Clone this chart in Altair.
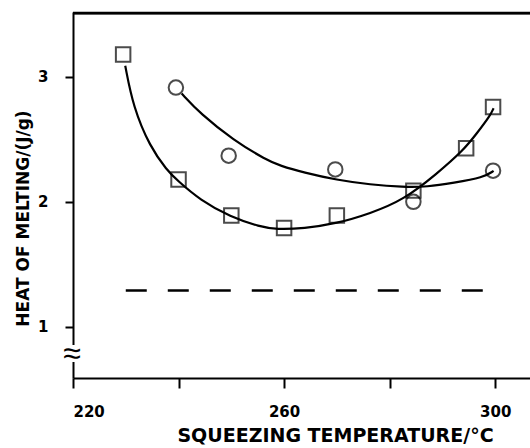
import altair as alt
import pandas as pd

# measured points (squares and circles)
sq_t = [229.5, 240, 250, 260, 270, 284.5, 294.5, 299.6]
sq_h = [3.18, 2.18, 1.89, 1.79, 1.89, 2.09, 2.43, 2.76]
ci_t = [239.5, 249.5, 269.7, 284.5, 299.6]
ci_h = [2.915, 2.37, 2.26, 2.00, 2.25]

# fitted curves
sqc_t = [229.9, 231.4, 234.6, 237.8, 239.7, 244.1, 249.8, 255.5, 258.6, 263.7, 270.0, 276.3, 282.6, 289.0, 294.0, 296.5, 299.1, 299.7]
sqc_h = [3.09, 2.76, 2.44, 2.254, 2.174, 2.014, 1.88, 1.80, 1.779, 1.787, 1.827, 1.907, 2.014, 2.227, 2.414, 2.547, 2.694, 2.75]
cic_t = [240.6, 244.1, 250.4, 256.7, 259.2, 263.7, 270.0, 276.3, 282.6, 287.1, 292.1, 297.8, 299.7]
cic_h = [2.867, 2.707, 2.494, 2.334, 2.29, 2.235, 2.175, 2.138, 2.118, 2.12, 2.152, 2.195, 2.248]

# dashed reference level
base_t = [230, 298]
base_h = [1.29, 1.29]

x_ticks = [220, 240, 260, 280, 300]
y_ticks = [1, 2, 3]
x_domain = [220, 306.6]
y_domain = [0.59, 3.52]
frame_top = [3.51, 3.51]

FONT = "DejaVu Sans"
W, H = 457, 366

xs = alt.Scale(domain=x_domain, nice=False, zero=False)
ys = alt.Scale(domain=y_domain, nice=False, zero=False)

xaxis = alt.Axis(values=x_ticks, labelExpr="datum.value % 40 == 20 ? datum.label : ''",
                 grid=False, domainWidth=2, domainColor="black", tickColor="black",
                 tickWidth=2, tickSize=10, labelPadding=16, labelFontSize=15,
                 labelFont=FONT, labelFontWeight="bold", labelColor="black",
                 title="SQUEEZING TEMPERATURE/°C", titleFont=FONT, titleFontSize=19,
                 titleFontWeight="bold", titleColor="black", titleX=262, titleY=63,
                 titleAnchor="middle", titleBaseline="alphabetic")
yaxis = alt.Axis(values=y_ticks, format="d", grid=False, domainWidth=2, domainColor="black",
                 tickColor="black", tickWidth=2, tickSize=8, labelPadding=17,
                 labelFontSize=15, labelFont=FONT, labelFontWeight="bold", labelColor="black",
                 title="HEAT OF MELTING/(J/g)", titleFont=FONT, titleFontSize=17,
                 titleFontWeight="bold", titleColor="black", titleX=-50, titleY=206,
                 titleAnchor="middle", titleBaseline="middle", titleAngle=-90)

sq_df = pd.DataFrame({"t": sq_t, "h": sq_h})
ci_df = pd.DataFrame({"t": ci_t, "h": ci_h})
sqc_df = pd.DataFrame({"t": sqc_t, "h": sqc_h})
cic_df = pd.DataFrame({"t": cic_t, "h": cic_h})
base_df = pd.DataFrame({"t": base_t, "h": base_h})
frame_df = pd.DataFrame({"t": x_domain, "h": frame_top})

X = alt.X("t:Q", scale=xs, axis=xaxis)
Y = alt.Y("h:Q", scale=ys, axis=yaxis)

top_line = alt.Chart(frame_df).mark_line(color="black", strokeWidth=2.5).encode(x=X, y=Y)
top_rule = alt.Chart(frame_df.head(1)).mark_rule(color="black", strokeWidth=2.5).encode(
    x=alt.value(0), x2=alt.value(W), y=alt.value(1))
sq_curve = alt.Chart(sqc_df).mark_line(color="black", strokeWidth=2.2, interpolate="basis").encode(x=X, y=Y)
ci_curve = alt.Chart(cic_df).mark_line(color="black", strokeWidth=2.2, interpolate="basis").encode(x=X, y=Y)
base = alt.Chart(base_df).mark_line(color="black", strokeWidth=2.5, strokeDash=[21, 21]).encode(x=X, y=Y)
squares = alt.Chart(sq_df).mark_point(shape="square", size=210, color="black", strokeWidth=2, filled=False).encode(x=X, y=Y)
circles = alt.Chart(ci_df).mark_point(shape="circle", size=210, color="black", strokeWidth=2, filled=False).encode(x=X, y=Y)

gap = alt.Chart(frame_df.head(1)).mark_rect(color="white").encode(
    x=alt.value(-4), x2=alt.value(4), y=alt.value(333), y2=alt.value(350))
brk = alt.Chart(frame_df.head(1)).mark_text(text="≈", fontSize=32, color="black").encode(
    x=alt.value(-1), y=alt.value(342))

chart = alt.layer(top_line, top_rule, base, sq_curve, ci_curve, squares, circles, gap, brk).properties(
    width=W, height=H,
    autosize=alt.AutoSizeParams(type="none"),
    padding={"left": 73, "top": 12, "right": 0, "bottom": 70},
).configure_view(stroke=None)

chart.save("out.html", embed_options={"renderer": "svg", "actions": False})
